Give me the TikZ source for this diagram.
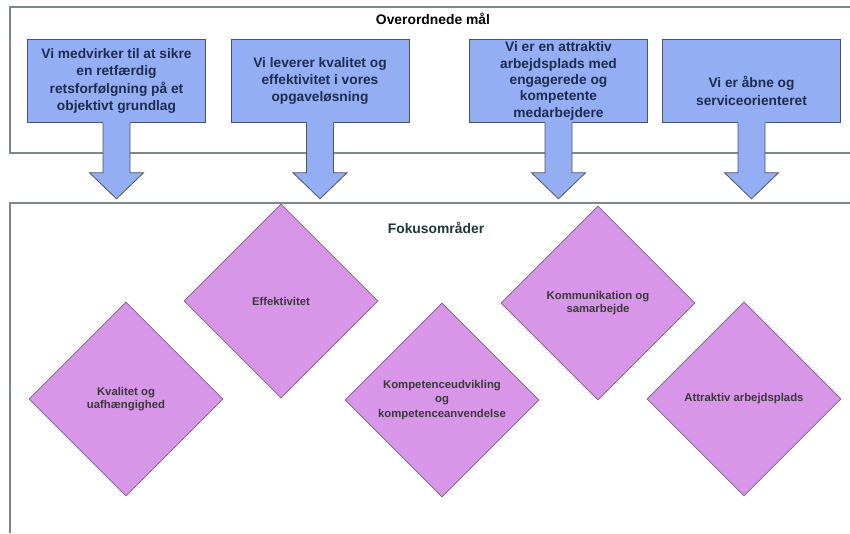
\documentclass[tikz,border=0pt]{standalone}
\usepackage{fontspec}
\setmainfont{Liberation Sans}
\usetikzlibrary{shapes.geometric,calc}
\definecolor{goalblue}{HTML}{93AEF2}
\definecolor{goaledge}{HTML}{4A5468}
\definecolor{goalink}{HTML}{1C2C52}
\definecolor{areapink}{HTML}{D896E8}
\definecolor{areaedge}{HTML}{7C5C8C}
\definecolor{areaink}{HTML}{3A3A3A}
\definecolor{panelgray}{HTML}{7E8888}
\definecolor{headink}{HTML}{1E3838}
% broad down arrow hanging from a goal box
\newcommand{\goalarrow}[1]{%
\fill[goalblue] ($(#1.south)+(-13.5,-0.6)$) -- ($(#1.south)+(-13.5,50)$) -- ($(#1.south)+(-27,50)$) -- ($(#1.south)+(0,76)$) -- ($(#1.south)+(27,50)$) -- ($(#1.south)+(13.5,50)$) -- ($(#1.south)+(13.5,-0.6)$) -- cycle;
\draw[goaledge,line width=0.6pt,line join=miter] ($(#1.south)+(-13.5,0)$) -- ($(#1.south)+(-13.5,50)$) -- ($(#1.south)+(-27,50)$) -- ($(#1.south)+(0,76)$) -- ($(#1.south)+(27,50)$) -- ($(#1.south)+(13.5,50)$) -- ($(#1.south)+(13.5,0)$);}
\begin{document}
\begin{tikzpicture}[x=0.75pt,y=-0.75pt,
  goalbox/.style={draw=goaledge,line width=0.7pt,fill=goalblue,minimum width=133.5pt,minimum height=62pt,inner sep=0pt,align=center,text=goalink,font=\bfseries\fontsize{10.3}{13}\selectfont},
  areabox/.style={diamond,aspect=1,draw=areaedge,line width=0.5pt,fill=areapink,minimum size=145.5pt,inner sep=0pt,align=center,text=areaink,font=\bfseries\fontsize{8.5}{10.2}\selectfont},
  headtext/.style={font=\bfseries\fontsize{10.4}{12}\selectfont}]
\useasboundingbox (0,0) rectangle (850,533);
\fill[white] (0,0) rectangle (850,533);
% panels
\draw[panelgray,line width=0.8pt] (850,7) -- (10,7) -- (10,153) -- (850,153);
\draw[panelgray,line width=0.8pt] (850,203) -- (10,203) -- (10,533);
\node[headtext] (goalhead) at (433,19) {Overordnede mål};
\node[headtext,text=headink] (areahead) at (436,228) {Fokusområder};
% goals
\node[goalbox] (g1) at (116.5,81) {Vi medvirker til at sikre\\en retfærdig\\retsforfølgning på et\\objektivt grundlag};
\node[goalbox] (g2) at (320,81) {Vi leverer kvalitet og\\effektivitet i vores\\opgaveløsning};
\node[goalbox,font=\bfseries\fontsize{10.3}{12.3}\selectfont] (g3) at (558.5,81) {Vi er en attraktiv\\arbejdsplads med\\engagerede og\\kompetente\\medarbejdere};
\node[goalbox,label={[align=center,text=goalink,font=\bfseries\fontsize{10.3}{13}\selectfont,yshift=-7.5pt]center:Vi er åbne og\\serviceorienteret}] (g4) at (751.5,81) {};
\goalarrow{g1}
\goalarrow{g2}
\goalarrow{g3}
\goalarrow{g4}
% focus areas
\node[areabox] (a1) at (126,399) {Kvalitet og\\uafhængighed};
\node[areabox] (a2) at (281,301) {Effektivitet};
\node[areabox,font=\bfseries\fontsize{8.5}{10.6}\selectfont] (a3) at (442,400) {Kompetenceudvikling\\og\\kompetenceanvendelse};
\node[areabox] (a4) at (598,303) {Kommunikation og\\samarbejde};
\node[areabox] (a5) at (744,399) {Attraktiv arbejdsplads};
\end{tikzpicture}
\end{document}
